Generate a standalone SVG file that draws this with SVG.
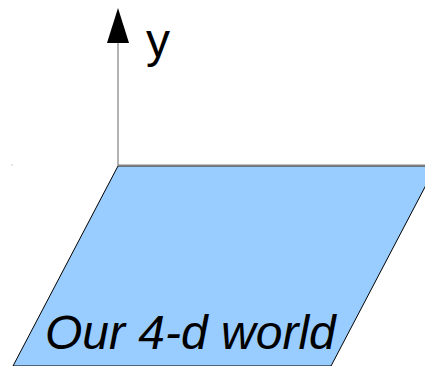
<svg xmlns="http://www.w3.org/2000/svg" width="425" height="366" viewBox="0 0 425 366">
<style>
.plane{fill:#99ccff;stroke:#000;stroke-width:1}
.axis{stroke:#808080;stroke-width:1.2;fill:none}
.lbl{font-family:"Liberation Sans",Arial,sans-serif;font-size:48px;fill:#000}
</style>
<g id="plane">
<polygon class="plane" points="118,166 436,166 331,366 13,366"/>
<line x1="118" y1="165.5" x2="425" y2="165.5" stroke="#808080" stroke-width="2"/>
<text class="lbl" x="45" y="349" font-style="italic">Our 4-d world</text>
</g>
<g id="connectors">
<line class="axis" x1="118" y1="166" x2="118" y2="40"/>
<polygon points="118,8 107,43 129,43" fill="#000"/>
</g>
<g id="ylabel">
<text class="lbl" x="146" y="57">y</text>
</g>
<rect x="11.5" y="164.5" width="1" height="1" fill="#999"/>
</svg>
